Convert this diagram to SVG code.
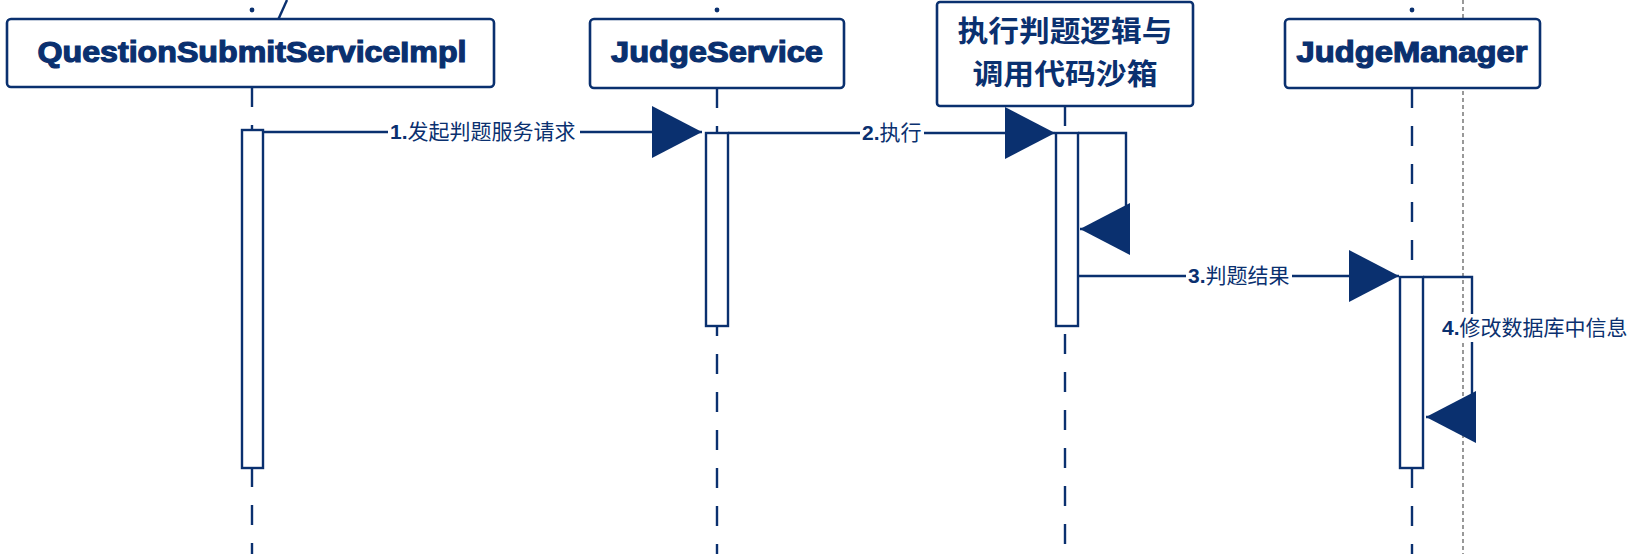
<svg xmlns="http://www.w3.org/2000/svg" width="1648" height="554" viewBox="0 0 1648 554">
<style>
.box{fill:#fff;stroke:#0a306f;stroke-width:2.6;stroke-linejoin:round}
.act{fill:#fff;stroke:#0a306f;stroke-width:2.4}
.life{stroke:#0a306f;stroke-width:2.4;stroke-dasharray:20 18;fill:none}
.dot{fill:#0a306f}
.title{font-family:"Liberation Sans","Noto Sans CJK SC",sans-serif;font-weight:bold;font-size:30px;fill:#0a306f;stroke:#0a306f;stroke-width:1.2;text-anchor:middle}
.cjk{font-family:"Noto Sans CJK SC",sans-serif;font-weight:bold;font-size:29px;fill:#0a306f;text-anchor:middle}
.msg{stroke:#0a306f;stroke-width:2.4;fill:none;marker-end:url(#head)}
.lbl{font-family:"Liberation Sans","Noto Sans CJK SC",sans-serif;font-size:21px;fill:#0a306f}
.lbl tspan{font-weight:bold}
.bg{fill:#fff}
</style>
<defs>
<marker id="head" markerUnits="userSpaceOnUse" viewBox="0 0 50 52" markerWidth="50" markerHeight="52" refX="50" refY="26" orient="auto">
<path d="M0,0 L50,26 L0,52 Z" fill="#0a306f"/>
</marker>
</defs>
<rect width="1648" height="554" fill="#fff"/>
<line x1="1463" y1="0" x2="1463" y2="554" stroke="#555" stroke-width="1.2" stroke-dasharray="4 3"/>
<line x1="287" y1="0" x2="278" y2="20" stroke="#0a306f" stroke-width="2.4"/>

<g id="node-questionSubmitServiceImpl">
<circle class="dot" cx="252" cy="10" r="2.4"/>
<line class="life" x1="252" y1="87" x2="252" y2="554"/>
<rect class="box" x="7" y="19" width="487" height="68" rx="4"/>
<text class="title" x="252" y="62" textLength="429" lengthAdjust="spacingAndGlyphs">QuestionSubmitServiceImpl</text>
<rect class="act" x="242" y="130" width="21" height="338"/>
</g>

<g id="node-judgeService">
<circle class="dot" cx="717" cy="10" r="2.4"/>
<line class="life" x1="717" y1="88" x2="717" y2="554"/>
<rect class="box" x="590" y="19" width="254" height="69" rx="4"/>
<text class="title" x="717" y="62" textLength="212" lengthAdjust="spacingAndGlyphs">JudgeService</text>
<rect class="act" x="706" y="133" width="22" height="193"/>
</g>

<g id="node-sandbox">
<line class="life" x1="1065" y1="106" x2="1065" y2="554"/>
<rect class="box" x="937" y="2" width="256" height="104" rx="3"/>
<text class="cjk" x="1065" y="42" textLength="215" lengthAdjust="spacingAndGlyphs">执行判题逻辑与</text>
<text class="cjk" x="1065" y="85" textLength="185" lengthAdjust="spacingAndGlyphs">调用代码沙箱</text>
<rect class="act" x="1056" y="133" width="22" height="193"/>
</g>

<g id="node-judgeManager">
<circle class="dot" cx="1412" cy="10" r="2.4"/>
<line class="life" x1="1412" y1="88" x2="1412" y2="554"/>
<rect class="box" x="1285" y="19" width="255" height="69" rx="4"/>
<text class="title" x="1412" y="62" textLength="231" lengthAdjust="spacingAndGlyphs">JudgeManager</text>
<rect class="act" x="1400" y="277" width="23" height="191"/>
</g>

<g id="connectors">
<path class="msg" d="M263,132 H702"/>
<rect class="bg" x="388" y="118" width="192" height="28"/>
<text class="lbl" x="390" y="139"><tspan>1.</tspan>发起判题服务请求</text>

<path class="msg" d="M728,133 H1055"/>
<rect class="bg" x="860" y="119" width="64" height="28"/>
<text class="lbl" x="862" y="140"><tspan>2.</tspan>执行</text>

<path class="msg" d="M1078,133 H1126 V229 H1080"/>

<path class="msg" d="M1078,276 H1399"/>
<rect class="bg" x="1186" y="262" width="106" height="28"/>
<text class="lbl" x="1188" y="283"><tspan>3.</tspan>判题结果</text>

<path class="msg" d="M1423,277 H1472 V417 H1426"/>
<rect class="bg" x="1440" y="314" width="190" height="28"/>
<text class="lbl" x="1442" y="335"><tspan>4.</tspan>修改数据库中信息</text>
</g>
</svg>
